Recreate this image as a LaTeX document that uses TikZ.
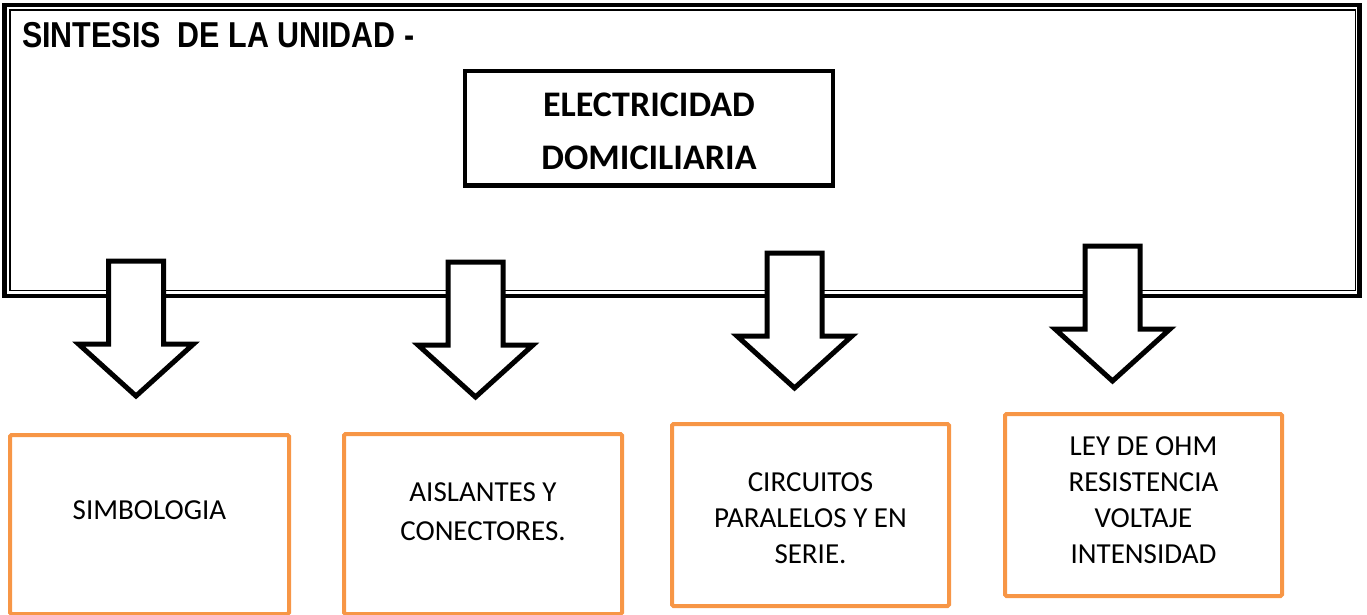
\documentclass[tikz,border=0pt]{standalone}
\usepackage{fontspec}
\setmainfont{Carlito}
\newfontfamily\titlefont{Liberation Sans}
\definecolor{boxorange}{HTML}{F79646}

\begin{document}
\begin{tikzpicture}[x=1pt, y=-1pt,
    frame/.style={draw=black, line width=4.5pt},
    mainbox/.style={draw=black, line width=4.5pt, minimum width=368pt, minimum height=114.5pt},
    topicbox/.style={draw=boxorange, line width=4pt, rounded corners=1.5pt, minimum width=278pt, minimum height=181pt},
    topictext/.style={align=center, font=\fontsize{29}{36}\selectfont},
    blockarrow/.style={draw=black, fill=white, line width=5pt, line join=miter}]

  \useasboundingbox (0,0) rectangle (1367,615);

  %% outer double frame
  \draw[frame] (4.5,5) rectangle (1359.5,296);
  \draw[black, line width=1.8pt] (10,10) rectangle (1355.5,290.5);

  \node[anchor=base west, inner sep=0pt, font=\titlefont\bfseries\fontsize{36}{36}\selectfont]
    (title) at (22,48) {\scalebox{0.845}[1]{SINTESIS\ \ DE LA UNIDAD -}};

  \node[mainbox] (elecbox) at (649,128.25) {};
  \node[align=center, font=\bfseries\fontsize{36}{53}\selectfont] (elec) at (649,131)
    {ELECTRICIDAD\\DOMICILIARIA};

  %% block arrows
  \foreach \cx/\yt in {136/261, 475.5/262, 794.5/253, 1112.5/246}
    \draw[blockarrow] (\cx-27.5,\yt) -- (\cx+27.5,\yt) -- (\cx+27.5,\yt+83)
      -- (\cx+57.5,\yt+83) -- (\cx,\yt+135) -- (\cx-57.5,\yt+83)
      -- (\cx-27.5,\yt+83) -- cycle;

  %% topic boxes
  \node[topicbox, minimum width=279pt, minimum height=179pt] (simbbox) at (149.5,524.5) {};
  \node[topicbox, minimum height=180pt] (aislbox) at (483,524) {};
  \node[topicbox, minimum width=277pt, minimum height=182pt] (circbox) at (810.5,515) {};
  \node[topicbox, minimum width=277pt, minimum height=182pt] (ohmbox) at (1143.5,505) {};

  \node[topictext] (simb) at (149.5,510) {SIMBOLOGIA};
  \node[topictext, font=\fontsize{29}{39}\selectfont] (aisl) at (483,512) {AISLANTES Y\\CONECTORES.};
  \node[topictext] (circ) at (810.5,518) {CIRCUITOS\\PARALELOS Y EN\\SERIE.};
  \node[topictext] (ohm) at (1143.5,500) {LEY DE OHM\\RESISTENCIA\\VOLTAJE\\INTENSIDAD};

\end{tikzpicture}
\end{document}
